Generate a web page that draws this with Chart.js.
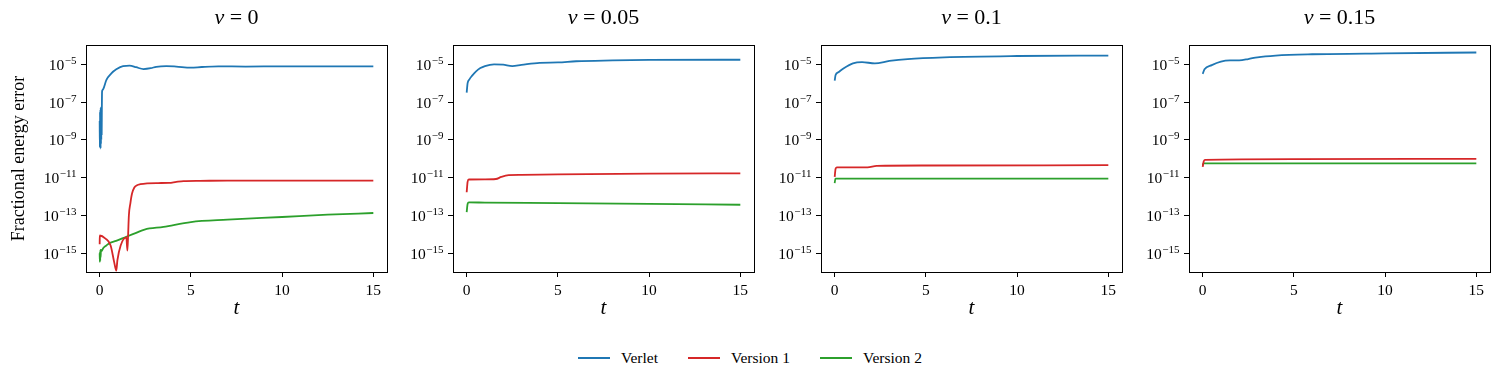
<!DOCTYPE html>
<html>
<head>
<meta charset="utf-8">
<script src="https://cdn.jsdelivr.net/npm/chart.js@4.4.1/dist/chart.umd.min.js"></script>
<style>
  html, body { margin: 0; padding: 0; background: #fff; }
  #fig { position: relative; width: 1500px; height: 383px; overflow: hidden; font-family: 'Liberation Serif', serif; }
  #fig canvas { position: absolute; top: 0; }
  .legend { position: absolute; top: 349px; left: 0; width: 1500px; height: 18px; display: flex; justify-content: center; align-items: center; font-size: 15.5px; color: #000; }
  .legend .item { display: flex; align-items: center; margin: 0 15px; }
  .legend .swatch { width: 32px; height: 2px; margin-right: 11px; }
</style>
</head>
<body>
<div id="fig">
  <canvas id="p0" width="401" height="330" style="left:0px"></canvas>
  <canvas id="p1" width="395" height="330" style="left:373px"></canvas>
  <canvas id="p2" width="395" height="330" style="left:741px"></canvas>
  <canvas id="p3" width="395" height="330" style="left:1109px"></canvas>
  <div class="legend">
    <div class="item"><div class="swatch" style="background:#1f77b4"></div>Verlet</div>
    <div class="item"><div class="swatch" style="background:#d62728"></div>Version 1</div>
    <div class="item"><div class="swatch" style="background:#2ca02c"></div>Version 2</div>
  </div>
</div>
<script>
/* ==========================================================================
   DATA (fractional energy error vs t)
   ========================================================================== */
const nuValues = ['0', '0.05', '0.1', '0.15'];
const seriesNames = ['Verlet', 'Version 1', 'Version 2'];
const seriesColors = ['#1f77b4', '#d62728', '#2ca02c'];
const tTicks = [0, 5, 10, 15];
const errTicks = [1e-15, 1e-13, 1e-11, 1e-9, 1e-7, 1e-5];

// nu = 0
const nu0VerletT = [0, 0.01, 0.02, 0.03, 0.04, 0.05, 0.06, 0.07, 0.08, 0.09, 0.1, 0.11, 0.12, 0.13, 0.15, 0.2, 0.37, 0.64, 0.91, 1.28, 1.64, 2.0, 2.4, 2.8, 3.1, 3.65, 4.2, 5.0, 5.6, 6.5, 8, 10, 12, 15];
const nu0VerletE = [1e-8, 4e-10, 3e-8, 5e-10, 4e-8, 3.5e-10, 5e-8, 6e-10, 5.6e-8, 1e-9, 5e-8, 2e-9, 6e-8, 3.5e-7, 4.3e-7, 5e-7, 1.5e-6, 3.3e-6, 5.4e-6, 8.1e-6, 8.5e-6, 7e-6, 5.6e-6, 6.2e-6, 7.4e-6, 8.1e-6, 7.6e-6, 6.6e-6, 7.2e-6, 7.8e-6, 7.6e-6, 7.8e-6, 7.7e-6, 7.8e-6];
const nu0V1T = [0, 0.005, 0.3, 0.6, 0.8, 0.91, 0.97, 1.15, 1.46, 1.52, 1.56, 1.6, 1.68, 1.77, 1.9, 2.05, 2.23, 2.6, 3.2, 3.8, 4.2, 4.6, 5.5, 7, 10, 15];
const nu0V1E = [3e-15, 8.7e-15, 6.2e-15, 2.6e-15, 3.2e-16, 1.2e-16, 4.2e-16, 2.6e-15, 6.9e-15, 1.4e-15, 1e-14, 1e-13, 4.3e-13, 1.4e-12, 3e-12, 4e-12, 4.5e-12, 5e-12, 5.2e-12, 5.3e-12, 6e-12, 6.6e-12, 6.8e-12, 7e-12, 7e-12, 7e-12];
const nu0V2T = [0, 0.01, 0.02, 0.03, 0.04, 0.05, 0.07, 0.1, 0.2, 0.35, 0.55, 0.9, 1.46, 2.0, 2.46, 3.5, 5, 7, 10, 12.5, 15];
const nu0V2E = [1e-15, 3.5e-16, 1.2e-15, 4e-16, 1.5e-15, 6e-16, 1.5e-15, 1.3e-15, 1.9e-15, 2.5e-15, 3.5e-15, 4.5e-15, 7.5e-15, 1.2e-14, 1.8e-14, 2.5e-14, 4.5e-14, 6e-14, 8.3e-14, 1.1e-13, 1.35e-13];

// nu = 0.05
const nu1VerletT = [0, 0.05, 0.15, 0.3, 0.5, 0.75, 1, 1.5, 2, 2.5, 3, 4, 5, 6, 8, 10, 15];
const nu1VerletE = [3.2e-7, 1e-6, 1.6e-6, 2.5e-6, 4.1e-6, 6.3e-6, 8.1e-6, 1e-5, 9.5e-6, 8.1e-6, 9.3e-6, 1.2e-5, 1.26e-5, 1.45e-5, 1.6e-5, 1.7e-5, 1.74e-5];
const nu1V1T = [0, 0.05, 0.12, 1.0, 1.6, 1.9, 2.3, 3, 5, 10, 15];
const nu1V1E = [1.7e-12, 6e-12, 8e-12, 8.2e-12, 8.5e-12, 1.1e-11, 1.35e-11, 1.4e-11, 1.5e-11, 1.65e-11, 1.7e-11];
const nu1V2T = [0, 0.05, 0.12, 1, 5, 10, 15];
const nu1V2E = [1.5e-13, 4e-13, 4.9e-13, 4.8e-13, 4.5e-13, 4.1e-13, 3.7e-13];

// nu = 0.1
const nu2VerletT = [0, 0.05, 0.2, 0.5, 1, 1.5, 2.2, 3, 4, 6, 10, 15];
const nu2VerletE = [1.35e-6, 2.7e-6, 3.8e-6, 6.2e-6, 1.12e-5, 1.3e-5, 1.12e-5, 1.5e-5, 1.9e-5, 2.35e-5, 2.75e-5, 2.9e-5];
const nu2V1T = [0, 0.05, 0.12, 1.8, 2.3, 5, 15];
const nu2V1E = [1.1e-11, 3e-11, 3.5e-11, 3.5e-11, 4.2e-11, 4.4e-11, 4.6e-11];
const nu2V2T = [0, 0.04, 5, 10, 15];
const nu2V2E = [5.2e-12, 8.9e-12, 8.9e-12, 8.9e-12, 8.9e-12];

// nu = 0.15
const nu3VerletT = [0, 0.1, 0.5, 1, 1.5, 2, 2.5, 3, 4, 6, 10, 15];
const nu3VerletE = [3.1e-6, 5.4e-6, 9e-6, 1.38e-5, 1.6e-5, 1.62e-5, 1.9e-5, 2.35e-5, 2.9e-5, 3.4e-5, 3.8e-5, 4.2e-5];
const nu3V1T = [0, 0.05, 0.12, 5, 15];
const nu3V1E = [3.7e-11, 7e-11, 8.7e-11, 9.5e-11, 1e-10];
const nu3V2T = [0, 0.05, 15];
const nu3V2E = [4.6e-11, 5.7e-11, 5.7e-11];

const panelSeries = [
    [[nu0VerletT, nu0VerletE], [nu0V1T, nu0V1E], [nu0V2T, nu0V2E]],
    [[nu1VerletT, nu1VerletE], [nu1V1T, nu1V1E], [nu1V2T, nu1V2E]],
    [[nu2VerletT, nu2VerletE], [nu2V1T, nu2V1E], [nu2V2T, nu2V2E]],
    [[nu3VerletT, nu3VerletE], [nu3V1T, nu3V1E], [nu3V2T, nu3V2E]]
];

/* ==========================================================================
   PLUGINS
   ========================================================================== */
const serif = "'Liberation Serif', 'DejaVu Serif', serif";

// Box around each axes (all four spines)
const framePlugin = {
    id: 'frame',
    afterDatasetsDraw(chart) {
        const a = chart.chartArea;
        const ctx = chart.ctx;
        ctx.save();
        ctx.strokeStyle = '#000';
        ctx.lineWidth = 1;
        ctx.strokeRect(Math.round(a.left) + 0.5, Math.round(a.top) + 0.5,
            Math.round(a.right - a.left), Math.round(a.bottom - a.top));
        ctx.restore();
    }
};

// Log tick labels as 10 with a raised exponent (like mathtext)
const powerTickPlugin = {
    id: 'powerTicks',
    afterDraw(chart) {
        const scale = chart.scales.y;
        const ctx = chart.ctx;
        ctx.save();
        ctx.fillStyle = '#000';
        ctx.textBaseline = 'alphabetic';
        ctx.textAlign = 'left';
        scale.ticks.forEach(tick => {
            const y = scale.getPixelForValue(tick.value);
            const exp = '\u2212' + Math.abs(Math.round(Math.log10(tick.value)));
            ctx.font = '15.5px ' + serif;
            const wBase = ctx.measureText('10').width;
            ctx.font = '11px ' + serif;
            const wExp = ctx.measureText(exp).width;
            const x0 = scale.right - 5 - 4.5 - wExp - wBase - 0.5;
            ctx.font = '15.5px ' + serif;
            ctx.fillText('10', x0, y + 5.5);
            ctx.font = '11px ' + serif;
            ctx.fillText(exp, x0 + wBase + 0.5, y - 0.5);
        });
        ctx.restore();
    }
};

// "nu = x" title with italic nu
const nuTitlePlugin = {
    id: 'nuTitle',
    afterDraw(chart, args, opts) {
        const a = chart.chartArea;
        const ctx = chart.ctx;
        ctx.save();
        ctx.fillStyle = '#000';
        ctx.textBaseline = 'middle';
        const f1 = 'italic 22px ' + serif;
        const f2 = '22px ' + serif;
        ctx.font = f1;
        const w1 = ctx.measureText('\u03BD').width;
        ctx.font = f2;
        const rest = ' = ' + opts.value;
        const w2 = ctx.measureText(rest).width;
        const x0 = (a.left + a.right) / 2 - (w1 + w2) / 2;
        ctx.font = f1;
        ctx.fillText('\u03BD', x0, 18);
        ctx.font = f2;
        ctx.fillText(rest, x0 + w1, 18);
        ctx.restore();
    }
};

/* ==========================================================================
   PANELS
   ========================================================================== */
const axisWidths = [86, 80, 80, 80];

panelSeries.forEach((series, p) => {
    const ctx = document.getElementById('p' + p);
    new Chart(ctx, {
        type: 'line',
        data: {
            datasets: series.map(([t, e], i) => ({
                label: seriesNames[i],
                data: t.map((x, k) => ({ x: x, y: e[k] })),
                borderColor: seriesColors[i],
                borderWidth: 1.8,
                pointRadius: 0,
                fill: false,
                cubicInterpolationMode: 'monotone'
            }))
        },
        options: {
            responsive: false,
            animation: false,
            devicePixelRatio: 1,
            layout: { padding: { top: 45, right: 14, left: 0, bottom: 0 } },
            plugins: {
                legend: { display: false },
                tooltip: { enabled: false },
                nuTitle: { value: nuValues[p] }
            },
            scales: {
                x: {
                    type: 'linear',
                    min: -0.75,
                    max: 15.75,
                    afterBuildTicks: s => { s.ticks = tTicks.map(v => ({ value: v })); },
                    afterFit: s => { s.height = 58; },
                    border: { display: false },
                    grid: { drawOnChartArea: false, tickLength: 5, color: '#000', lineWidth: 1 },
                    ticks: { color: '#000', font: { family: serif, size: 15.5 }, padding: 5, maxRotation: 0, autoSkip: false, callback: v => String(v) },
                    title: { display: true, text: 't', color: '#000', font: { family: serif, size: 21, style: 'italic' }, padding: { top: 0, bottom: 9 } }
                },
                y: {
                    type: 'logarithmic',
                    min: 1.02e-16,
                    max: 1.05e-4,
                    afterBuildTicks: s => { s.ticks = errTicks.map(v => ({ value: v })); },
                    afterFit: s => { s.width = axisWidths[p]; },
                    border: { display: false },
                    grid: { drawOnChartArea: false, tickLength: 5, color: '#000', lineWidth: 1 },
                    ticks: { autoSkip: false, callback: () => '' },
                    title: { display: p === 0, text: 'Fractional energy error', color: '#000', font: { family: serif, size: 18 }, padding: { top: 8, bottom: 0 } }
                }
            }
        },
        plugins: [framePlugin, powerTickPlugin, nuTitlePlugin]
    });
});
</script>
</body>
</html>
